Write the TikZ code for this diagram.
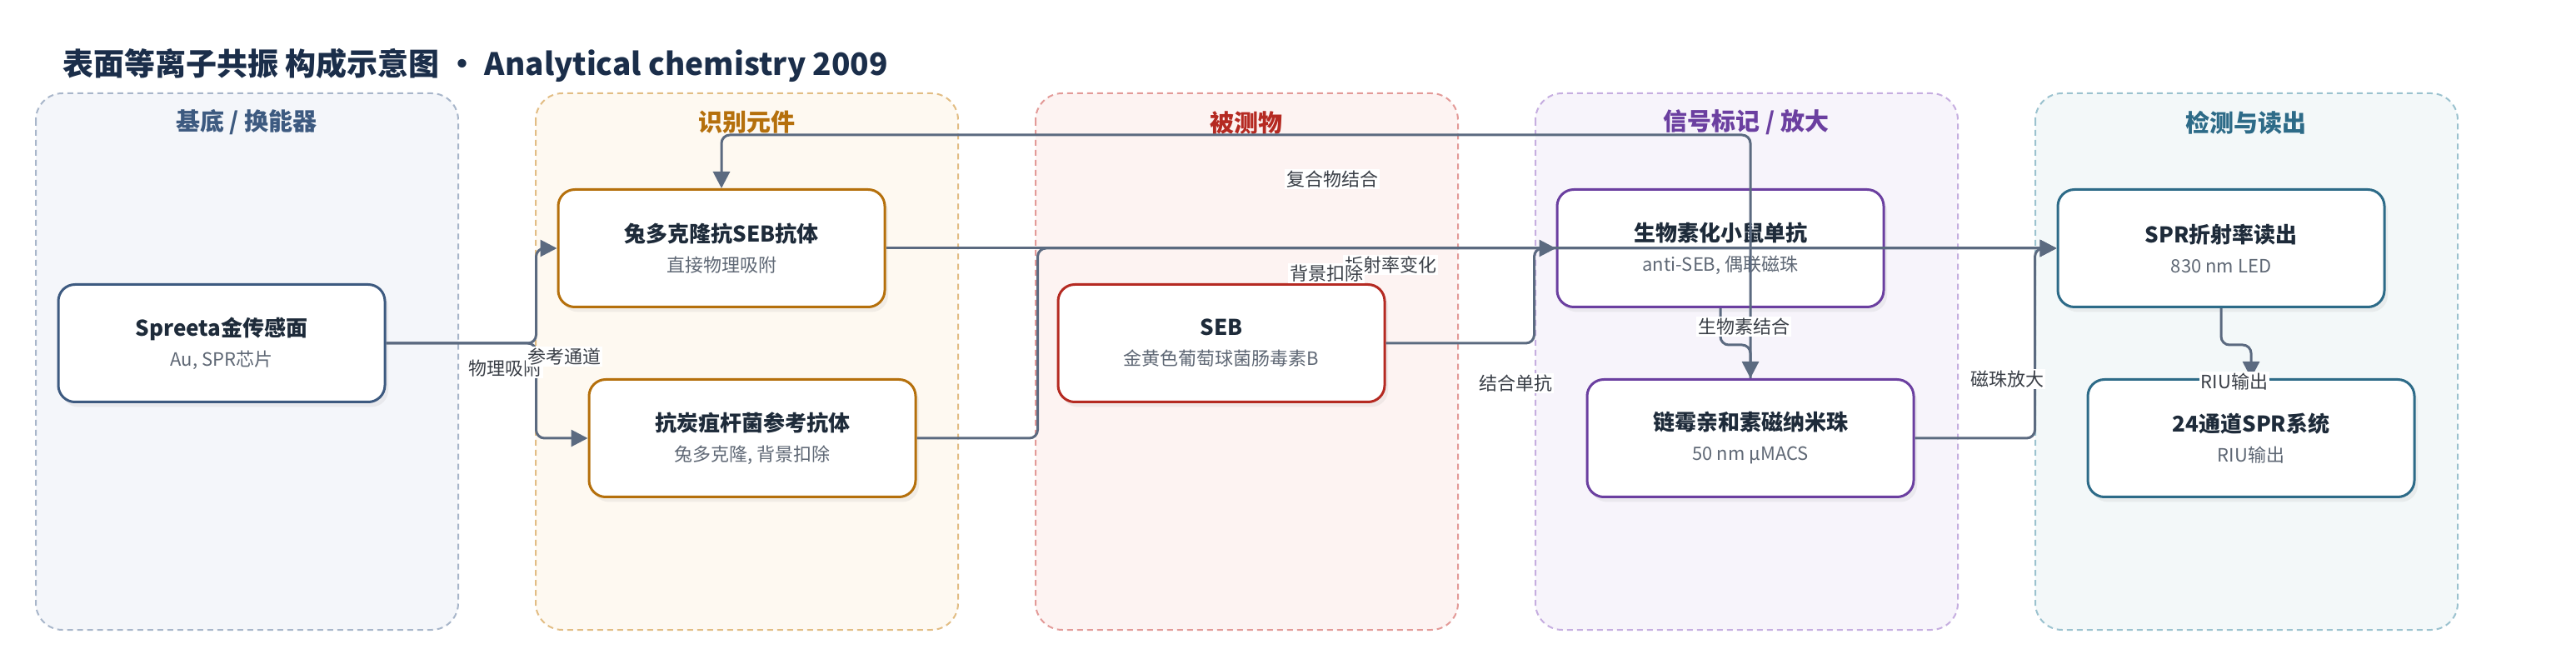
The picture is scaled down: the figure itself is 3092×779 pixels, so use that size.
\documentclass[tikz,border=0pt]{standalone}
\usepackage{fontspec}
\setmainfont{Noto Sans CJK SC}
\usepackage{tikz}
\usetikzlibrary{arrows.meta,shadows}
\definecolor{edgec}{HTML}{5B6A80}
\definecolor{titlec}{HTML}{1B2E4A}
\definecolor{textc}{HTML}{1E2B3A}
\definecolor{subc}{HTML}{5F6875}
\definecolor{labc}{HTML}{3A3F47}
\definecolor{subfill}{HTML}{F4F6FA}
\definecolor{subdash}{HTML}{A8B6CA}
\definecolor{submain}{HTML}{3D5A80}
\definecolor{recfill}{HTML}{FEF9F1}
\definecolor{recdash}{HTML}{E2BD84}
\definecolor{recmain}{HTML}{B5700C}
\definecolor{anafill}{HTML}{FDF3F2}
\definecolor{anadash}{HTML}{E39A98}
\definecolor{anamain}{HTML}{B52A22}
\definecolor{sigfill}{HTML}{F7F4FB}
\definecolor{sigdash}{HTML}{C6AEE0}
\definecolor{sigmain}{HTML}{6B3FA0}
\definecolor{detfill}{HTML}{F3F8F9}
\definecolor{detdash}{HTML}{9BC2CF}
\definecolor{detmain}{HTML}{2D6B88}
\tikzset{lane/.style={draw=#1dash, fill=#1fill, line width=1pt, dash pattern=on 3.5pt off 2.5pt, rounded corners=16pt}}
\tikzset{lanehead/.style={text=#1main, font=\bfseries\fontsize{14.5}{16}\selectfont}}
\tikzset{box/.style={draw=#1main, line width=1.5pt, fill=white, rounded corners=10pt, minimum width=196pt, minimum height=70.5pt, align=center, text=textc, font=\fontsize{13}{18}\selectfont, drop shadow={opacity=0.1, shadow xshift=2pt, shadow yshift=-3pt}}}
\tikzset{flow/.style={draw=edgec, line width=1.5pt, rounded corners=5pt, -{Triangle[length=10pt,width=10pt]}}}
\tikzset{elabel/.style={fill=white, text=labc, inner sep=1pt, font=\fontsize{11}{12}\selectfont}}
\newcommand{\boxtext}[2]{\textbf{#1}\\{\color{subc}\fontsize{11}{18}\selectfont #2}}

\begin{document}
\begin{tikzpicture}[x=0.5pt,y=-0.5pt]
  \path[fill=white, use as bounding box] (0,0) rectangle (3092,779);
  \node (ttl) at (75,78)[anchor=west, text=titlec, font=\bfseries\fontsize{18.5}{20}\selectfont, inner sep=0pt]{表面等离子共振 构成示意图 • Analytical chemistry 2009};

  % lanes
  \draw[lane=sub] (43,112) rectangle (550,756);
  \draw[lane=rec] (643,112) rectangle (1150,756);
  \draw[lane=ana] (1243,112) rectangle (1750,756);
  \draw[lane=sig] (1843,112) rectangle (2350,756);
  \draw[lane=det] (2443,112) rectangle (2950,756);
  \node (h1) at (296,147)[lanehead=sub]{基底 / 换能器};
  \node (h2) at (896,147)[lanehead=rec]{识别元件};
  \node (h3) at (1496,147)[lanehead=ana]{被测物};
  \node (h4) at (2096,147)[lanehead=sig]{信号标记 / 放大};
  \node (h5) at (2696,147)[lanehead=det]{检测与读出};

  % nodes
  \node (sp) at (266,412)[box=sub]{\boxtext{Spreeta金传感面}{Au, SPR芯片}};
  \node (rb) at (866,298)[box=rec]{\boxtext{兔多克隆抗SEB抗体}{直接物理吸附}};
  \node (an) at (903,526)[box=rec]{\boxtext{抗炭疽杆菌参考抗体}{兔多克隆, 背景扣除}};
  \node (seb) at (1466,412)[box=ana]{\boxtext{SEB}{金黄色葡萄球菌肠毒素B}};
  \node (bio) at (2065,298)[box=sig]{\boxtext{生物素化小鼠单抗}{anti-SEB, 偶联磁珠}};
  \node (sa) at (2101,526)[box=sig]{\boxtext{链霉亲和素磁纳米珠}{50 nm µMACS}};
  \node (spr) at (2666,298)[box=det]{\boxtext{SPR折射率读出}{830 nm LED}};
  \node (sys) at (2702,526)[box=det]{\boxtext{24通道SPR系统}{RIU输出}};

  % connectors
  \draw[flow] (sp.east) -- ++(180,0) |- (rb.west);
  \draw[flow] (sp.east) -- ++(180,0) |- (an.west);
  \draw[flow] (rb.east) -- (spr.west);
  \draw[flow] (an.east) -- ++(145,0) |- (spr.west);
  \draw[flow] (seb.east) -- ++(178,0) |- (bio.west);
  \draw[flow] (bio.south) -- ++(0,44) -| (sa.north);
  \draw[flow] (sa.north) -- ++(0,-292) -| (rb.north);
  \draw[flow] (sa.east) -- ++(144,0) |- (spr.west);
  \draw[flow] (spr.south) -- ++(0,44) -| (sys.north);

  % labels
  \node (l1) at (1599,215)[elabel]{复合物结合};
  \node (l2) at (606,442)[elabel]{物理吸附};
  \node (l3) at (677,428)[elabel]{参考通道};
  \node (l4) at (1669,318)[elabel]{折射率变化};
  \node (l5) at (1592,328)[elabel]{背景扣除};
  \node (l6) at (1819,460)[elabel]{结合单抗};
  \node (l7) at (2093,392)[elabel]{生物素结合};
  \node (l8) at (2409,455)[elabel]{磁珠放大};
  \node (l9) at (2682,458)[elabel]{RIU输出};
\end{tikzpicture}
\end{document}
